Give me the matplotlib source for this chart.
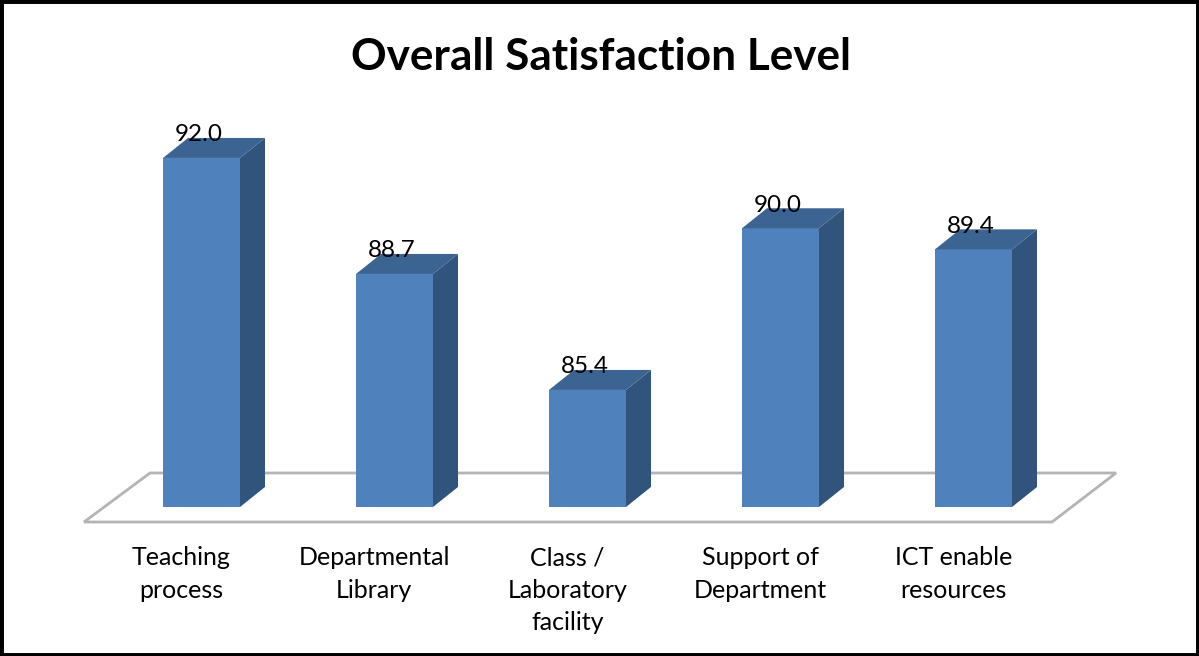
import matplotlib

matplotlib.use("Agg")
import matplotlib.pyplot as plt
from matplotlib.patches import Polygon, Rectangle

categories = [
    "Teaching\nprocess",
    "Departmental\nLibrary",
    "Class /\nLaboratory\nfacility",
    "Support of\nDepartment",
    "ICT enable\nresources",
]
values = [92.0, 88.7, 85.4, 90.0, 89.4]

WIDTH = 1199
HEIGHT = 656
PX_PER_CATEGORY = 193.0
PX_PER_UNIT = 35.15
FIRST_BAR_PX = 201.5
BASE_PX = 507.0
BASE_VALUE = 82.07

BAR_WIDTH = 77.0 / PX_PER_CATEGORY
DEPTH_X = 25.0 / PX_PER_CATEGORY
DEPTH_Y = 20.0 / PX_PER_UNIT

FRONT = "#4F81BD"
SIDE = "#31547D"
TOP = "#3C6493"
FLOOR = "#B4B4B4"


def draw_bar(axes, x, value):
    left = x - BAR_WIDTH / 2.0
    right = x + BAR_WIDTH / 2.0
    axes.bar([x], [value - BASE_VALUE], width=BAR_WIDTH, bottom=BASE_VALUE, color=FRONT, zorder=3, linewidth=0)
    axes.add_patch(Polygon(
        [(right, BASE_VALUE), (right + DEPTH_X, BASE_VALUE + DEPTH_Y), (right + DEPTH_X, value + DEPTH_Y), (right, value)],
        closed=True, facecolor=SIDE, edgecolor="none", zorder=3))
    axes.add_patch(Polygon(
        [(left, value), (right, value), (right + DEPTH_X, value + DEPTH_Y), (left + DEPTH_X, value + DEPTH_Y)],
        closed=True, facecolor=TOP, edgecolor="none", zorder=3))


def main():
    figure = plt.figure(figsize=(WIDTH / 100.0, HEIGHT / 100.0), dpi=100)
    axes = figure.add_axes([0, 0, 1, 1])
    axes.set_xlim(-FIRST_BAR_PX / PX_PER_CATEGORY, (WIDTH - FIRST_BAR_PX) / PX_PER_CATEGORY)
    axes.set_ylim(BASE_VALUE - (HEIGHT - BASE_PX) / PX_PER_UNIT, BASE_VALUE + BASE_PX / PX_PER_UNIT)
    axes.axis("off")

    # floor of the 3D box, in data units relative to the bars
    floor_front = BASE_VALUE - 15.0 / PX_PER_UNIT
    floor_back = BASE_VALUE + 34.0 / PX_PER_UNIT
    x_low = -FIRST_BAR_PX / PX_PER_CATEGORY
    axes.add_patch(Polygon(
        [(x_low + 84.0 / PX_PER_CATEGORY, floor_front), (x_low + 1052.0 / PX_PER_CATEGORY, floor_front),
         (x_low + 1116.0 / PX_PER_CATEGORY, floor_back), (x_low + 150.0 / PX_PER_CATEGORY, floor_back)],
        closed=True, facecolor="white", edgecolor=FLOOR, linewidth=2.0, zorder=1))

    for index, value in enumerate(values):
        draw_bar(axes, index, value)
        axes.text(index - 0.012, value + 23.0 / PX_PER_UNIT, "%.1f" % value, ha="center", va="center",
                  fontsize=17.5, family="Lato", color="black", zorder=4)
        lines = categories[index].split("\n")
        for line_index, line in enumerate(lines):
            axes.text(index - 0.105, BASE_VALUE - (50.5 + 32.5 * line_index) / PX_PER_UNIT, line,
                      ha="center", va="center", fontsize=18, family="Lato", color="black", zorder=4)

    figure.text(0.5010, 1 - 56.5 / HEIGHT, "Overall Satisfaction Level", ha="center", va="center",
                fontsize=31.8, fontweight="bold", family="Lato", color="black")

    figure.add_artist(Rectangle((0, 0), 1, 1, transform=figure.transFigure, fill=False,
                                edgecolor="black", linewidth=5.0))
    figure.savefig("out.png", dpi=100)
    plt.close(figure)


if __name__ == "__main__":
    main()
